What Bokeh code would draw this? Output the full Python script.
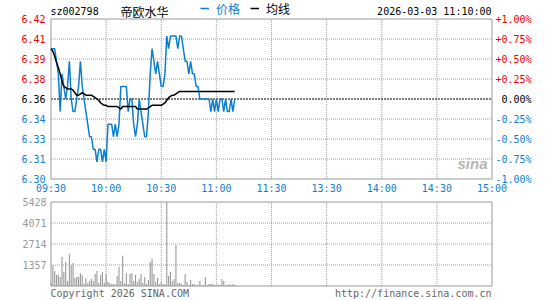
from bokeh.plotting import figure
from bokeh.models import Range1d, ColumnDataSource, Legend, LegendItem
from bokeh.layouts import column
from bokeh.embed import file_html
from bokeh.resources import INLINE
from bokeh.core.properties import value

# ---------------- data ----------------
stock_code = "sz002798"
stock_name = "帝欧水华"
stamp = "2026-03-03 11:10:00"
legend_price = "价格"
legend_avg = "均线"
copyright_text = "Copyright 2026 SINA.COM"
url_text = "http://finance.sina.com.cn"
prev_close = 6.36

time_ticks = [0, 30, 60, 90, 120, 150, 180, 210, 240]
time_labels = ["09:30", "10:00", "10:30", "11:00", "11:30", "13:30", "14:00", "14:30", "15:00"]

minutes = list(range(101))
price = [6.40, 6.40, 6.40, 6.39, 6.38, 6.35, 6.38, 6.37, 6.36, 6.37,
         6.39, 6.36, 6.35, 6.35, 6.36, 6.37, 6.39, 6.37, 6.36, 6.35,
         6.34, 6.33, 6.33, 6.32, 6.32, 6.31, 6.32, 6.32, 6.31, 6.32,
         6.31, 6.34, 6.34, 6.34, 6.33, 6.34, 6.33, 6.34, 6.37, 6.37,
         6.37, 6.37, 6.35, 6.36, 6.36, 6.34, 6.33, 6.34, 6.36, 6.35,
         6.34, 6.33, 6.33, 6.35, 6.38, 6.40, 6.39, 6.38, 6.39, 6.38,
         6.37, 6.37, 6.38, 6.41, 6.40, 6.41, 6.41, 6.41, 6.41, 6.40,
         6.41, 6.41, 6.40, 6.39, 6.39, 6.38, 6.39, 6.38, 6.38, 6.37,
         6.37, 6.36, 6.36, 6.36, 6.36, 6.36, 6.36, 6.35, 6.36, 6.35,
         6.36, 6.35, 6.36, 6.36, 6.35, 6.36, 6.35, 6.35, 6.36, 6.35,
         6.36]
avg_price = [6.400, 6.398, 6.394, 6.389, 6.385, 6.380, 6.374, 6.370, 6.369, 6.368,
             6.368, 6.368, 6.367, 6.365, 6.363, 6.363, 6.364, 6.365, 6.364, 6.363,
             6.363, 6.363, 6.363, 6.362, 6.361, 6.360, 6.359, 6.357, 6.356, 6.355,
             6.355, 6.354, 6.354, 6.354, 6.354, 6.354, 6.354, 6.353, 6.352, 6.354,
             6.354, 6.354, 6.354, 6.354, 6.354, 6.354, 6.354, 6.352, 6.352, 6.352,
             6.352, 6.352, 6.352, 6.353, 6.354, 6.355, 6.355, 6.355, 6.355, 6.355,
             6.355, 6.356, 6.357, 6.359, 6.361, 6.362, 6.363, 6.363, 6.364, 6.365,
             6.366, 6.366, 6.366, 6.366, 6.366, 6.366, 6.366, 6.366, 6.366, 6.366,
             6.366, 6.366, 6.366, 6.366, 6.366, 6.366, 6.366, 6.366, 6.366, 6.366,
             6.366, 6.366, 6.366, 6.366, 6.366, 6.366, 6.366, 6.366, 6.366, 6.366,
             6.366]
volume = [170, 1357, 970, 710, 750, 580, 1870, 900, 1550, 320,
          2070, 1357, 1480, 520, 600, 600, 840, 710, 150, 520,
          170, 320, 450, 300, 780, 970, 215, 710, 900, 215,
          780, 260, 200, 110, 130, 90, 650, 1250, 320, 1960,
          170, 840, 130, 780, 820, 320, 710, 260, 470, 780,
          190, 580, 110, 390, 1550, 1750, 780, 260, 520, 130,
          260, 130, 130, 5428, 650, 900, 320, 450, 2650, 200,
          200, 130, 50, 780, 260, 70, 390, 130, 130, 60,
          60, 320, 60, 60, 580, 60, 130, 130, 130, 60,
          60, 90, 60, 450, 320, 60, 60, 130, 60, 130,
          60]
vol_ticks = [1357, 2714, 4071, 5428]
pct_steps = [-4, -3, -2, -1, 0, 1, 2, 3, 4]   # multiples of 0.25 %

# ---------------- geometry / style ----------------
W = 545
H1, H2 = 195, 105
FX0, FX1 = 50.5, 491.5          # plot-area left/right (pixels)
FY0, FY1 = 18.5, 178.5          # price panel top/bottom (pixels)
VY0, VY1 = 201.5 - H1, 285.5 - H1   # volume panel top/bottom (inside 2nd figure)
BLUE = "#0a7fd0"
RED = "#ee0000"
GRAY = "#999999"
GRID = "#a0a0a0"
MONO = "DejaVu Sans Mono"
CJK = "Noto Sans CJK SC"

lo, hi = prev_close * 0.99, prev_close * 1.01
levels = [prev_close * (1 + k * 0.0025) for k in pct_steps]
vmax = vol_ticks[-1]
ppm = (FX1 - FX0) / 240.0


def mx(px):
    return (px - FX0) / ppm


def py(px):
    return hi - (px - FY0) * (hi - lo) / (FY1 - FY0)


def vy(px):
    return vmax - (px - VY0) * vmax / (VY1 - VY0)


def base_fig(h, yr):
    f = figure(width=W, height=h, x_range=Range1d(mx(0), mx(W)), y_range=yr,
               toolbar_location=None, output_backend="svg", title=None,
               min_border=0, min_border_left=0, min_border_right=0,
               min_border_top=0, min_border_bottom=0)
    f.xaxis.visible = False
    f.yaxis.visible = False
    f.xgrid.visible = False
    f.ygrid.visible = False
    f.outline_line_color = None
    f.background_fill_color = "white"
    f.border_fill_color = "white"
    return f


def txt(f, x, y, text, color, font=MONO, size="10px", align="left", **kw):
    f.text(x=x, y=y, text=text, text_color=color, text_font=value(font),
           text_font_size=size, text_align=align, text_baseline="middle", **kw)


# ---------------- price panel ----------------
p1 = base_fig(H1, Range1d(py(H1), py(0)))
inner_levels = [v for k, v in zip(pct_steps, levels) if k not in (0, -4, 4)]
inner_times = time_ticks[1:-1]
p1.segment(x0=0, x1=240, y0=inner_levels, y1=inner_levels, line_color=GRID,
           line_width=1, line_dash="1 1")
p1.segment(x0=inner_times, x1=inner_times, y0=lo, y1=hi, line_color=GRID,
           line_width=1, line_dash="1 1")
p1.segment(x0=0, x1=240, y0=prev_close, y1=prev_close, line_color="black",
           line_width=1, line_dash="2 1")
p1.quad(left=0, right=240, bottom=lo, top=hi, fill_alpha=0, line_color=GRAY, line_width=1)

txt(p1, mx(472), py(163), ["sina"], "#b4b4b4", font="Liberation Sans", size="15px",
    align="center", text_font_style="bold italic")

src = ColumnDataSource(dict(t=minutes, price=price, avg=avg_price))
r_price = p1.line("t", "price", source=src, line_color=BLUE, line_width=1.5)
r_avg = p1.line("t", "avg", source=src, line_color="black", line_width=1.5)

lab_col = [RED if k > 0 else ("black" if k == 0 else BLUE) for k in pct_steps]
txt(p1, [mx(45)] * len(levels), levels, [f"{v:.2f}" for v in levels], lab_col, align="right")
txt(p1, [mx(531)] * len(levels), levels,
    [("0.00%" if k == 0 else f"{k * 0.25:+.2f}%") for k in pct_steps], lab_col, align="right")
txt(p1, time_ticks, [py(188)] * len(time_ticks), time_labels, BLUE, align="center")

txt(p1, [mx(50)], [py(11)], [stock_code], "black")
txt(p1, [mx(120)], [py(11)], [stock_name], "black", font=CJK, size="12px")
txt(p1, [mx(491)], [py(11)], [stamp], "black", align="right")

for lbl, rend, col, x0 in ((legend_price, r_price, BLUE, 200), (legend_avg, r_avg, "black", 250)):
    lg = Legend(items=[LegendItem(label=lbl, renderers=[rend])],
                location=(x0, H1 - 4.5 - 12), orientation="horizontal",
                padding=0, margin=0, spacing=0, border_line_color=None,
                background_fill_alpha=0, glyph_width=9, glyph_height=12,
                label_height=12, label_standoff=7, label_text_font=CJK,
                label_text_font_size="12px", label_text_color=col)
    p1.add_layout(lg)

# ---------------- volume panel ----------------
p2 = base_fig(H2, Range1d(vy(H2), vy(0)))
p2.segment(x0=0, x1=240, y0=vol_ticks[:-1], y1=vol_ticks[:-1], line_color=GRID,
           line_width=1, line_dash="1 1")
p2.segment(x0=inner_times, x1=inner_times, y0=0, y1=vmax, line_color=GRID,
           line_width=1, line_dash="1 1")
vsrc = ColumnDataSource(dict(t=minutes, v=volume))
p2.vbar(x="t", top="v", width=0.6, source=vsrc, fill_color=GRAY, line_color=None)
p2.quad(left=0, right=240, bottom=0, top=vmax, fill_alpha=0, line_color=GRAY, line_width=1)

txt(p2, [mx(46)] * len(vol_ticks), vol_ticks, [str(v) for v in vol_ticks], GRAY, align="right")
txt(p2, [mx(50)], [vy(292.5 - H1)], [copyright_text], "#666666")
txt(p2, [mx(491)], [vy(292.5 - H1)], [url_text], "#666666", align="right")

layout = column(p1, p2, spacing=0)
open("out.html", "w").write(file_html(layout, INLINE))
